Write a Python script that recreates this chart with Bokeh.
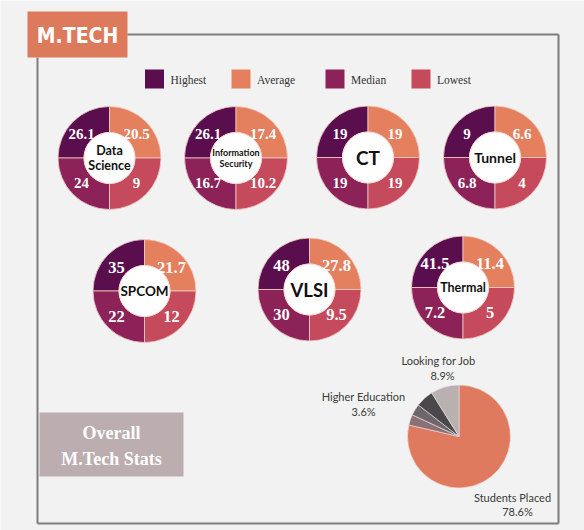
import math
from bokeh.plotting import figure
from bokeh.models import Range1d, ColumnDataSource
from bokeh.embed import file_html
from bokeh.resources import INLINE
from bokeh.core.properties import value

# ---------------- data ----------------
programs = ["Data Science", "Information Security", "CT", "Tunnel", "SPCOM", "VLSI", "Thermal"]
center_labels = ["Data\nScience", "Information\nSecurity", "CT", "Tunnel", "SPCOM", "VLSI", "Thermal"]
stat_names = ["Highest", "Average", "Median", "Lowest"]
highest = [26.1, 26.1, 19, 9, 35, 48, 41.5]
average = [20.5, 17.4, 19, 6.6, 21.7, 27.8, 11.4]
median = [24, 16.7, 19, 6.8, 22, 30, 7.2]
lowest = [9, 10.2, 19, 4, 12, 9.5, 5]

pie_labels = ["Students Placed", "Other (a)", "Higher Education", "Other (b)", "Looking for Job"]
pie_share = [78.6, 3.3, 3.6, 5.6, 8.9]
pie_shown = [True, False, True, False, True]

title_text = "M.TECH"
overall_text = ["Overall", "M.Tech Stats"]

# ---------------- styles / layout ----------------
stat_colors = ["#5b0e4d", "#e5805f", "#8c2258", "#c44a5c"]
pie_colors = ["#e07a5f", "#8b7175", "#6e666b", "#4b474a", "#b9b0b0"]
BG = "#f2f2f2"

donut_cx = [109, 235.5, 367.5, 494.5, 144, 309, 462.5]
donut_cy = [157.5, 157.5, 157, 157, 290.5, 289, 287]
center_font_px = [12.5, 9, 19, 14, 13.5, 18.5, 12.5]
value_font_px = [15, 15, 15, 15, 16.5, 16.5, 16.5]
R_OUT, R_IN = 51.5, 25.5
quad_angles = [(90, 180), (0, 90), (180, 270), (270, 360)]
quad_offsets = [(-28, -24), (27, -24), (-28, 25), (27, 25)]

leg_sq_x = [154, 240.5, 334.5, 420.5]

W, H = 584, 530


def Y(iy):
    return H - iy


p = figure(width=W, height=H, x_range=Range1d(0, W), y_range=Range1d(0, H),
           output_backend="svg", toolbar_location=None,
           x_axis_location=None, y_axis_location=None, min_border=0)
p.grid.visible = False
p.outline_line_color = None
p.background_fill_color = BG
p.border_fill_color = BG

# frame
p.segment(x0=[127, 37, 37, 558], y0=[Y(34), Y(57), Y(523), Y(34)],
          x1=[558, 37, 558, 558], y1=[Y(34), Y(523), Y(523), Y(523)],
          line_color="#7d7d7d", line_width=2)

# title box
p.rect(x=[77], y=[Y(34)], width=100, height=46, fill_color="#de7a5c", line_color=None)
p.text(x=[77], y=[Y(35)], text=[title_text], text_color="white",
       text_font=value("DejaVu Sans Condensed"), text_font_style="bold",
       text_font_size="21px", text_align="center", text_baseline="middle")

# legend
p.rect(x=leg_sq_x, y=[Y(78.5)] * 4, width=19, height=19, fill_color=stat_colors, line_color=None)
p.text(x=[v + 16 for v in leg_sq_x], y=[Y(79)] * 4, text=stat_names, text_color="#333333",
       text_font=value("Liberation Serif"), text_font_size="11.5px",
       text_align="left", text_baseline="middle")

# donuts
values_by_stat = [highest, average, median, lowest]
wx, wy, ws, we, wc = [], [], [], [], []
tx, ty, tt, tf = [], [], [], []
for i, prog in enumerate(programs):
    for j in range(4):
        wx.append(donut_cx[i]); wy.append(Y(donut_cy[i]))
        ws.append(math.radians(quad_angles[j][0])); we.append(math.radians(quad_angles[j][1]))
        wc.append(stat_colors[j])
        tx.append(donut_cx[i] + quad_offsets[j][0]); ty.append(Y(donut_cy[i] + quad_offsets[j][1]))
        tt.append(f"{values_by_stat[j][i]:g}")
        tf.append(f"{value_font_px[i]}px")

p.annular_wedge(x="x", y="y", inner_radius=R_IN, outer_radius=R_OUT, start_angle="s", end_angle="e",
                fill_color="c", line_color="#f1cfc6", line_width=0.8,
                source=ColumnDataSource(dict(x=wx, y=wy, s=ws, e=we, c=wc)))
p.circle(x=donut_cx, y=[Y(v) for v in donut_cy], radius=R_IN, fill_color="white",
         line_color="#f3d9d2", line_width=1)
p.text(x="x", y="y", text="t", text_font_size="f", source=ColumnDataSource(dict(x=tx, y=ty, t=tt, f=tf)),
       text_color="white", text_font=value("Liberation Serif"), text_font_style="bold",
       text_align="center", text_baseline="middle")

cx, cy, ct, cf = [], [], [], []
for i, lab in enumerate(center_labels):
    lines = lab.split("\n")
    lh = center_font_px[i] * 1.22
    for k, ln in enumerate(lines):
        cx.append(donut_cx[i])
        cy.append(Y(donut_cy[i] + (k - (len(lines) - 1) / 2) * lh))
        ct.append(ln)
        cf.append(f"{center_font_px[i]}px")
p.text(x="x", y="y", text="t", text_font_size="f", source=ColumnDataSource(dict(x=cx, y=cy, t=ct, f=cf)),
       text_color="#111111", text_font=value("Lato"), text_font_style="bold",
       text_align="center", text_baseline="middle")

# overall box
p.rect(x=[111], y=[Y(444)], width=144, height=64, fill_color="#bcadb0", line_color=None)
p.text(x=[111, 111], y=[Y(432), Y(458)], text=overall_text, text_color="white",
       text_font=value("Liberation Serif"), text_font_style="bold", text_font_size="18px",
       text_align="center", text_baseline="middle")

# pie
PX, PY, PR = 458.5, 436, 51.5
cum = 0.0
ps, pe = [], []
for v in pie_share:
    a0 = 90 - cum / 100 * 360
    cum += v
    a1 = 90 - cum / 100 * 360
    ps.append(math.radians(a0)); pe.append(math.radians(a1))
p.wedge(x=[PX] * len(pie_share), y=[Y(PY)] * len(pie_share), radius=PR, start_angle=ps, end_angle=pe,
        direction="clock", fill_color=pie_colors, line_color="#ece6e6", line_width=0.6)

pie_label_pos = {"Students Placed": (512, 497, 517, 511),
                 "Higher Education": (363, 396, 363, 411),
                 "Looking for Job": (438, 360, 442, 375)}
lx, ly, lt = [], [], []
for lab, v, shown in zip(pie_labels, pie_share, pie_shown):
    if not shown:
        continue
    a, b, c, d = pie_label_pos[lab]
    lx += [a, c]; ly += [Y(b), Y(d)]; lt += [lab, f"{v}%"]
p.text(x=lx, y=ly, text=lt, text_color="#3a3a3a", text_font=value("Lato"),
       text_font_size="11px", text_align="center", text_baseline="middle")

html = file_html(p, INLINE)
html = html.replace("<body>", '<body style="background-color:#f2f2f2;">', 1)
open("out.html", "w").write(html)
